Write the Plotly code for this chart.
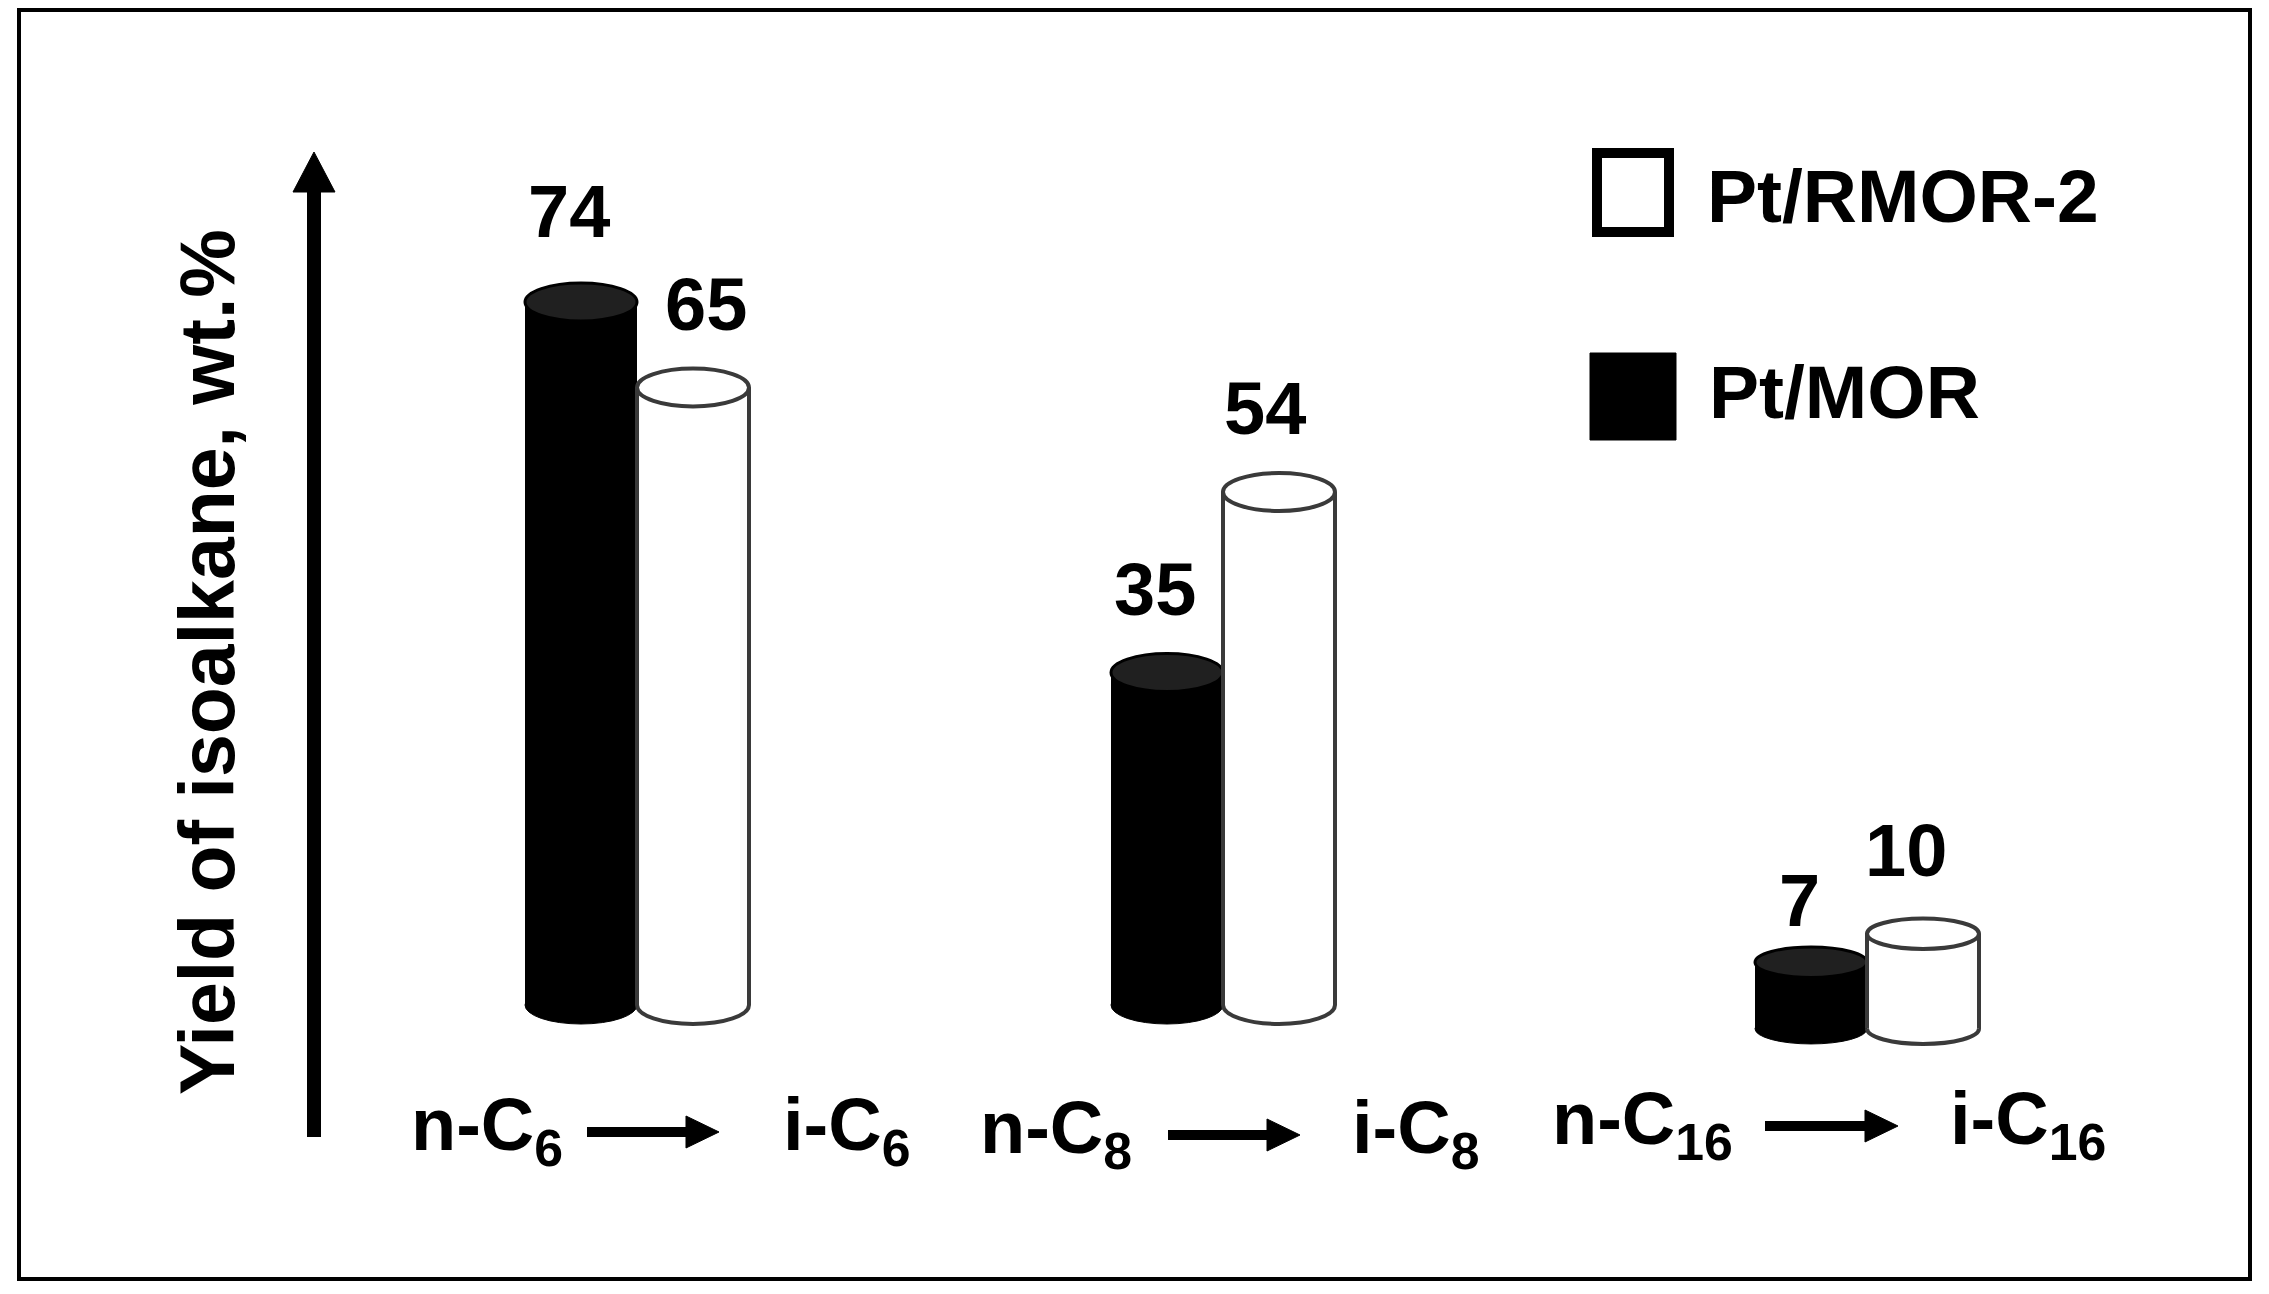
import plotly.graph_objects as go

# ---------------- data ----------------
groups = ["C6", "C8", "C16"]
series_names = ["Pt/MOR", "Pt/RMOR-2"]
pt_mor = [74, 35, 7]
pt_rmor2 = [65, 54, 10]
reactant_labels = ["n-C<sub>6</sub>", "n-C<sub>8</sub>", "n-C<sub>16</sub>"]
product_labels = ["i-C<sub>6</sub>", "i-C<sub>8</sub>", "i-C<sub>16</sub>"]
y_title = "Yield of isoalkane, wt.%"

# ---------------- layout constants ----------------
W, H = 2269, 1294
OFF = 8                          # page body margin of the html output
PX_PER_UNIT = 9.5
BASE_PX = 1005
GROUP_X = [637, 1223, 1867]      # boundary between the two bars of a group (screen px)
GROUP_BASE = [0, 0, -2.5]        # perspective shift of the baseline of each group
ELL_RY = [2.0, 2.0, 1.6]         # half-height of cylinder ellipses per group (y units)
BAR_W = 112
# fine placement of the value labels (px)
LBL_DX_BLACK = [-12, -12, -12]
LBL_DX_WHITE = [13, -14, -17]
LBL_DY_BLACK = [7, 0, -22]
LBL_DY_WHITE = [0, 0, 0]
N_X = [487, 1056, 1642]
ARROW_X = [(587, 719), (1168, 1300), (1765, 1898)]
I_X = [846, 1415, 2028]
LABEL_Y = [1130, 1133, 1124]
FONT = "Liberation Sans, Arial, Helvetica, sans-serif"
EDGE = "#3a3a3a"

y_top = (BASE_PX - OFF) / PX_PER_UNIT
y_bot = -(H + OFF - BASE_PX) / PX_PER_UNIT


def PX(x):
    return (x - OFF) / W


def PY(y):
    return 1 - (y - OFF) / H


fig = go.Figure()

black_x = [g - BAR_W / 2 for g in GROUP_X]
white_x = [g + BAR_W / 2 for g in GROUP_X]

fig.add_trace(go.Bar(x=black_x, y=pt_mor, base=GROUP_BASE, width=BAR_W,
                     marker=dict(color="#000000", line=dict(width=0)),
                     name=series_names[0], showlegend=False))
fig.add_trace(go.Bar(x=white_x, y=pt_rmor2, base=GROUP_BASE, width=BAR_W,
                     marker=dict(color="#ffffff", line=dict(width=0)),
                     name=series_names[1], showlegend=False))

shapes = []
annotations = []

for i in range(len(groups)):
    b = GROUP_BASE[i]
    ry = ELL_RY[i]
    # --- black cylinder ---
    cx = black_x[i]
    top = b + pt_mor[i]
    shapes.append(dict(type="circle", xref="x", yref="y", layer="below",
                       x0=cx - BAR_W / 2, x1=cx + BAR_W / 2, y0=b - ry, y1=b + ry,
                       fillcolor="#000000", line=dict(color="#000000", width=1)))
    shapes.append(dict(type="circle", xref="x", yref="y", layer="above",
                       x0=cx - BAR_W / 2, x1=cx + BAR_W / 2, y0=top - ry, y1=top + ry,
                       fillcolor="#202020", line=dict(color="#000000", width=3)))
    annotations.append(dict(x=cx, y=top + 4.2, xref="x", yref="y",
                            xshift=LBL_DX_BLACK[i], yshift=LBL_DY_BLACK[i],
                            text="<b>%d</b>" % pt_mor[i], showarrow=False,
                            xanchor="center", yanchor="bottom",
                            font=dict(family=FONT, size=74, color="#000000")))
    # --- white cylinder ---
    cx = white_x[i]
    top = b + pt_rmor2[i]
    shapes.append(dict(type="circle", xref="x", yref="y", layer="below",
                       x0=cx - BAR_W / 2, x1=cx + BAR_W / 2, y0=b - ry, y1=b + ry,
                       fillcolor="#ffffff", line=dict(color=EDGE, width=4)))
    for ex in (cx - BAR_W / 2, cx + BAR_W / 2):
        shapes.append(dict(type="line", xref="x", yref="y", layer="above",
                           x0=ex, x1=ex, y0=b, y1=top, line=dict(color=EDGE, width=4)))
    shapes.append(dict(type="circle", xref="x", yref="y", layer="above",
                       x0=cx - BAR_W / 2, x1=cx + BAR_W / 2, y0=top - ry, y1=top + ry,
                       fillcolor="#ffffff", line=dict(color=EDGE, width=4)))
    annotations.append(dict(x=cx, y=top + 4.2, xref="x", yref="y",
                            xshift=LBL_DX_WHITE[i], yshift=LBL_DY_WHITE[i],
                            text="<b>%d</b>" % pt_rmor2[i], showarrow=False,
                            xanchor="center", yanchor="bottom",
                            font=dict(family=FONT, size=74, color="#000000")))

    # --- reaction labels under each group ---
    ly = LABEL_Y[i]
    annotations.append(dict(x=PX(N_X[i]), y=PY(ly), xref="paper", yref="paper",
                            text="<b>" + reactant_labels[i] + "</b>", showarrow=False,
                            xanchor="center", yanchor="middle",
                            font=dict(family=FONT, size=74, color="#000000")))
    annotations.append(dict(x=PX(I_X[i]), y=PY(ly), xref="paper", yref="paper",
                            text="<b>" + product_labels[i] + "</b>", showarrow=False,
                            xanchor="center", yanchor="middle",
                            font=dict(family=FONT, size=74, color="#000000")))
    ax0, ax1 = ARROW_X[i]
    ay = ly + 2
    shapes.append(dict(type="line", xref="paper", yref="paper",
                       x0=PX(ax0), x1=PX(ax1 - 30), y0=PY(ay), y1=PY(ay),
                       line=dict(color="#000000", width=10)))
    shapes.append(dict(type="path", xref="paper", yref="paper",
                       path="M %f %f L %f %f L %f %f Z" % (PX(ax1 - 33), PY(ay - 16), PX(ax1), PY(ay),
                                                          PX(ax1 - 33), PY(ay + 16)),
                       fillcolor="#000000", line=dict(color="#000000", width=1)))

# --- vertical axis arrow ---
shapes.append(dict(type="line", xref="paper", yref="paper",
                   x0=PX(314), x1=PX(314), y0=PY(1137), y1=PY(190),
                   line=dict(color="#000000", width=14)))
shapes.append(dict(type="path", xref="paper", yref="paper",
                   path="M %f %f L %f %f L %f %f Z" % (PX(293), PY(192), PX(314), PY(152), PX(335), PY(192)),
                   fillcolor="#000000", line=dict(color="#000000", width=1)))
annotations.append(dict(x=PX(207), y=PY(662), xref="paper", yref="paper",
                        text="<b>" + y_title + "</b>", showarrow=False, textangle=-90,
                        xanchor="center", yanchor="middle",
                        font=dict(family=FONT, size=77, color="#000000")))

# --- legend (drawn manually) ---
shapes.append(dict(type="rect", xref="paper", yref="paper",
                   x0=PX(1597), x1=PX(1669), y0=PY(153), y1=PY(232),
                   fillcolor="#ffffff", line=dict(color="#000000", width=10)))
shapes.append(dict(type="rect", xref="paper", yref="paper",
                   x0=PX(1590), x1=PX(1676), y0=PY(353), y1=PY(440),
                   fillcolor="#000000", line=dict(color="#000000", width=1)))
annotations.append(dict(x=PX(1705), y=PY(196), xref="paper", yref="paper",
                        text="<b>" + series_names[1] + "</b>", showarrow=False,
                        xanchor="left", yanchor="middle",
                        font=dict(family=FONT, size=75, color="#000000")))
annotations.append(dict(x=PX(1707), y=PY(392), xref="paper", yref="paper",
                        text="<b>" + series_names[0] + "</b>", showarrow=False,
                        xanchor="left", yanchor="middle",
                        font=dict(family=FONT, size=75, color="#000000")))

# --- outer frame ---
shapes.append(dict(type="rect", xref="paper", yref="paper",
                   x0=PX(19), x1=PX(2250), y0=PY(10), y1=PY(1279),
                   line=dict(color="#000000", width=4), fillcolor="rgba(0,0,0,0)"))

fig.update_layout(
    width=W, height=H,
    margin=dict(l=0, r=0, t=0, b=0),
    paper_bgcolor="#ffffff", plot_bgcolor="#ffffff",
    barmode="overlay",
    xaxis=dict(range=[OFF, W + OFF], visible=False, fixedrange=True),
    yaxis=dict(range=[y_bot, y_top], visible=False, fixedrange=True),
    shapes=shapes, annotations=annotations,
    showlegend=False,
)

fig.write_html("out.html")
